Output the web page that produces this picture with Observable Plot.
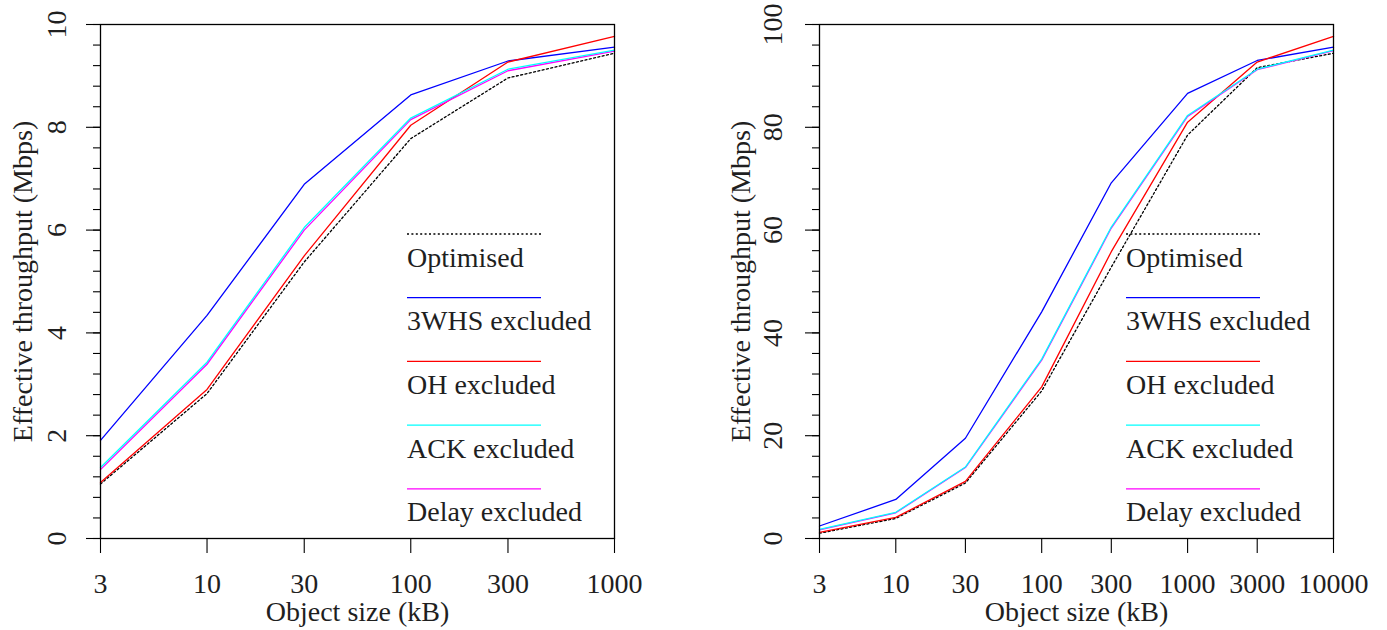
<!DOCTYPE html>
<html><head><meta charset="utf-8">
<script src="https://cdn.jsdelivr.net/npm/d3@7"></script>
<script src="https://cdn.jsdelivr.net/npm/@observablehq/plot@0.6"></script>
<style>
body{margin:0;background:#fff}
#c{display:flex;width:1387px;height:630px}
#c svg{display:block;font-family:'Liberation Serif',serif !important;font-size:28px !important}
#c svg text{font-family:'Liberation Serif',serif !important}
</style>
</head><body><div id="c"></div>
<script>
// ---- data ----
const seriesNames = ["Optimised", "3WHS excluded", "OH excluded", "ACK excluded", "Delay excluded"];
const seriesColors = ["#000000", "#0000ff", "#ff0000", "#00ffff", "#ff00ff"];
const seriesDash = ["2,2.4", null, null, null, null];
const drawOrder = [0, 1, 2, 4, 3];

const sizesLeft = [3, 10, 30, 100, 300, 1000];
const optimisedLeft = [1.06, 2.82, 5.38, 7.78, 8.96, 9.44];
const whsLeft = [1.91, 4.34, 6.89, 8.63, 9.29, 9.56];
const ohLeft = [1.09, 2.90, 5.50, 8.04, 9.27, 9.77];
const ackLeft = [1.38, 3.43, 6.05, 8.18, 9.13, 9.50];
const delayLeft = [1.34, 3.39, 6.00, 8.15, 9.10, 9.48];
const yTicksLeft = [0, 2, 4, 6, 8, 10];

const sizesRight = [3, 10, 30, 100, 300, 1000, 3000, 10000];
const optimisedRight = [1.03, 3.9, 10.8, 28.7, 52.8, 78.5, 91.6, 94.4];
const whsRight = [2.43, 7.6, 19.5, 44.1, 69.2, 86.6, 93.0, 95.6];
const ohRight = [1.2, 4.1, 11.1, 29.5, 55.8, 81.0, 92.7, 97.7];
const ackRight = [1.77, 5.1, 13.9, 34.9, 60.6, 82.3, 91.3, 95.0];
const delayRight = [1.7, 5.0, 13.8, 34.7, 60.4, 82.1, 91.2, 94.9];
const yTicksRight = [0, 20, 40, 60, 80, 100];

const yTitle = "Effective throughput (Mbps)";
const xTitle = "Object size (kB)";
const ink = "#1f1f1f";

function panel(o) {
  const yMax = o.yTicks[o.yTicks.length - 1];
  const minorStep = (o.yTicks[1] - o.yTicks[0]) / 5;
  const minors = d3.range(0, 26).map(i => +(i * minorStep).toFixed(6));
  const marks = [
    Plot.axisY({ticks: minors, tickSize: 7, tickFormat: () => "", label: null, strokeWidth: 1.1}),
    Plot.axisY({ticks: o.yTicks, tickSize: 14, tickFormat: () => "", label: null, strokeWidth: 1.1}),
    Plot.axisX({ticks: o.sizes, tickSize: 15, tickFormat: () => "", label: null, strokeWidth: 1.1}),
    Plot.text(o.sizes, {x: d => d, text: d => String(d), frameAnchor: "bottom", textAnchor: "middle", lineAnchor: "top", dy: 35, fill: ink}),
    Plot.text(o.yTicks, {y: d => d, text: d => String(d), frameAnchor: "left", textAnchor: "middle", lineAnchor: "middle", rotate: -90, dx: o.labelDx, fill: ink}),
    Plot.text([yTitle], {text: d => d, frameAnchor: "left", textAnchor: "middle", lineAnchor: "middle", rotate: -90, dx: o.titleDx, fill: ink}),
    Plot.text([xTitle], {text: d => d, frameAnchor: "bottom", textAnchor: "middle", lineAnchor: "middle", dy: 74, fill: ink})
  ];
  for (const i of drawOrder) {
    marks.push(Plot.line(o.values[i], {
      x: (d, j) => o.sizes[j], y: d => d,
      stroke: seriesColors[i], strokeWidth: 1.3,
      strokeDasharray: seriesDash[i] || undefined
    }));
  }
  marks.push(Plot.frame({stroke: "#000", strokeWidth: 1.3}));
  const svg = Plot.plot({
    width: o.width, height: 630,
    marginLeft: o.mL, marginRight: o.mR, marginTop: 24, marginBottom: 92,
    x: {type: "log", domain: [o.sizes[0], o.sizes[o.sizes.length - 1]]},
    y: {domain: [0, yMax]},
    style: {fontFamily: "'Liberation Serif', serif", fontSize: "28px", color: "#000", background: "#fff", overflow: "visible"},
    marks
  });
  // legend
  const s = d3.select(svg);
  const lx = o.mL + 307;
  seriesNames.forEach((name, i) => {
    const ly = 24 + 210 + i * 63.7;
    const ln = s.append("line").attr("x1", lx).attr("x2", lx + 134).attr("y1", ly).attr("y2", ly)
      .attr("stroke", seriesColors[i]).attr("stroke-width", 1.3);
    if (seriesDash[i]) ln.attr("stroke-dasharray", seriesDash[i]);
    s.append("text").attr("x", lx).attr("y", ly + 32.5).attr("text-anchor", "start").attr("fill", ink).text(name);
  });
  return svg;
}

const c = document.getElementById("c");
c.appendChild(panel({
  sizes: sizesLeft, values: [optimisedLeft, whsLeft, ohLeft, ackLeft, delayLeft],
  yTicks: yTicksLeft, width: 693, mL: 100, mR: 79, labelDx: -43, titleDx: -77
}));
c.appendChild(panel({
  sizes: sizesRight, values: [optimisedRight, whsRight, ohRight, ackRight, delayRight],
  yTicks: yTicksRight, width: 694, mL: 126, mR: 54, labelDx: -46, titleDx: -78
}));
</script></body></html>
